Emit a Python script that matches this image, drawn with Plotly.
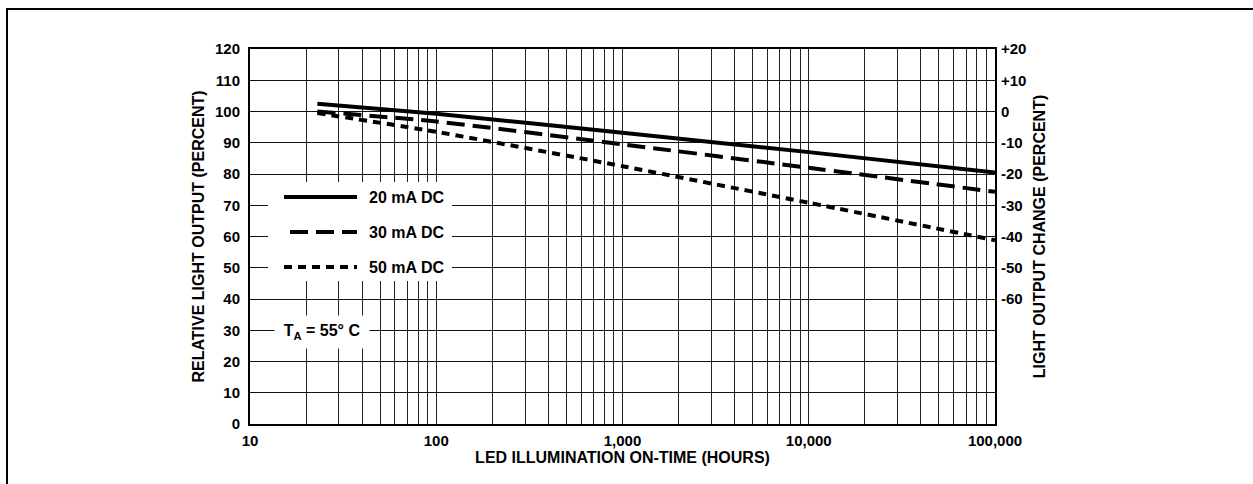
import plotly.graph_objects as go

# Light output degradation vs. on-time at three drive currents
hours = [23, 100, 1000, 10000, 100000]
output_20ma = [102.5, 99.3, 93.2, 87.0, 80.5]
output_30ma = [100.0, 96.8, 89.5, 82.0, 74.3]
output_50ma = [99.5, 93.5, 82.5, 70.8, 58.8]

series_names = ["20 mA DC", "30 mA DC", "50 mA DC"]
series_dash = ["solid", "18px,8px", "8px,6px"]

x_decades = [10, 100, 1000, 10000, 100000]
x_tick_labels = ["10", "100", "1,000", "10,000", "100,000"]
left_ticks = list(range(0, 121, 10))
right_ticks = [20, 10, 0, -10, -20, -30, -40, -50, -60]
right_tick_labels = ["+20", "+10", "0", "-10", "-20", "-30", "-40", "-50", "-60"]

FONT = "Liberation Sans, Arial, sans-serif"

# plot area in pixels (for placing decorations in paper coordinates)
L, R, T, B = 250, 995, 49, 424
W, H = 1253, 484


def px(x):
    return (x - L) / (R - L)


def py(y):
    return (B - y) / (B - T)


# minor gridlines at 2..9 x 10^n inside each decade
minor_vals = [m * d for d in x_decades[:-1] for m in range(2, 10)]

fig = go.Figure()
for name, vals, dash in zip(series_names, [output_20ma, output_30ma, output_50ma], series_dash):
    fig.add_trace(go.Scatter(
        x=hours, y=vals, mode="lines", name=name, showlegend=False,
        line=dict(color="black", width=4, dash=dash, shape="spline", smoothing=0.6),
    ))

# change-relative-to-initial scale on the right
fig.add_trace(go.Scatter(
    x=hours, y=[v - 100 for v in output_20ma], yaxis="y2", mode="lines",
    opacity=0, showlegend=False, hoverinfo="skip", line=dict(width=0),
))

shapes = []
# outer frame
shapes.append(dict(type="rect", xref="paper", yref="paper",
                   x0=px(7), x1=px(W + 20), y0=py(H + 20), y1=py(9),
                   line=dict(color="black", width=2), layer="above"))
# key box (blanks out the grid behind the key)
shapes.append(dict(type="rect", xref="paper", yref="paper",
                   x0=px(268), x1=px(452), y0=py(281), y1=py(182),
                   fillcolor="white", line=dict(width=0), layer="above"))
key_rows = [197, 232, 267]
key_starts = [284, 290, 284]
key_font = dict(family=FONT, size=16, color="black", weight="bold")
annotations = []
for name, dash, yrow, xs in zip(series_names, series_dash, key_rows, key_starts):
    shapes.append(dict(type="line", xref="paper", yref="paper",
                       x0=px(xs), x1=px(357), y0=py(yrow), y1=py(yrow),
                       line=dict(color="black", width=4, dash=dash), layer="above"))
    annotations.append(dict(xref="paper", yref="paper", x=px(367), y=py(yrow),
                            xanchor="left", yanchor="middle", showarrow=False,
                            text=name, font=key_font))

annotations.append(dict(xref="paper", yref="paper", x=px(322), y=py(332),
                        xanchor="center", yanchor="middle", showarrow=False,
                        text="T<sub>A</sub> = 55° C", bgcolor="white",
                        width=92, height=30, font=key_font))

tick_font = dict(family=FONT, size=15, color="black", weight="bold")
title_font = dict(family=FONT, size=16, color="black", weight="bold")

fig.update_layout(
    width=W, height=H,
    margin=dict(l=L, r=W - R, t=T, b=H - B),
    paper_bgcolor="white", plot_bgcolor="white",
    shapes=shapes, annotations=annotations,
    xaxis=dict(
        type="log", range=[1, 5],
        tickvals=x_decades, ticktext=x_tick_labels, tickfont=tick_font,
        showgrid=True, gridcolor="#222222", gridwidth=1,
        minor=dict(tickvals=minor_vals, showgrid=True, gridcolor="#222222",
                   gridwidth=1, ticks=""),
        showline=True, linecolor="black", linewidth=2, mirror=True,
        ticks="", zeroline=False, ticklabelstandoff=2,
        title=dict(text="LED ILLUMINATION ON-TIME (HOURS)", font=title_font, standoff=4),
    ),
    yaxis=dict(
        range=[0, 120], tickvals=left_ticks, tickfont=tick_font,
        showgrid=True, gridcolor="#111111", gridwidth=1,
        showline=True, linecolor="black", linewidth=2, mirror=True,
        ticks="", zeroline=False, ticklabelstandoff=5,
        title=dict(text="RELATIVE LIGHT OUTPUT (PERCENT)", font=title_font, standoff=6),
    ),
    yaxis2=dict(
        overlaying="y", side="right", range=[-100, 20],
        tickvals=right_ticks, ticktext=right_tick_labels, tickfont=tick_font,
        showgrid=False, zeroline=False, showline=False, ticks="",
        ticklabelstandoff=5,
        title=dict(text="LIGHT OUTPUT CHANGE (PERCENT)", font=title_font, standoff=8),
    ),
)

fig.write_html("out.html")
